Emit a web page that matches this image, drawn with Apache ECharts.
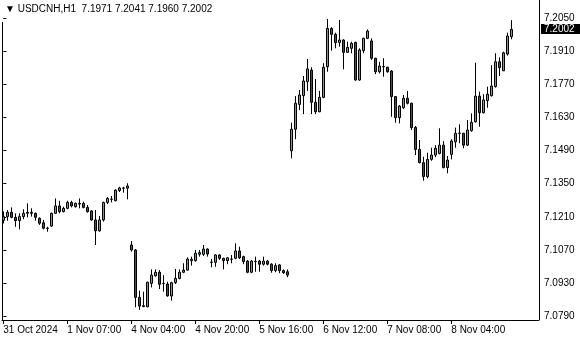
<!DOCTYPE html>
<html><head><meta charset="utf-8">
<script src="https://cdn.jsdelivr.net/npm/echarts@6/dist/echarts.min.js"></script>
<style>html,body{margin:0;padding:0;background:#fff}#c{width:580px;height:340px}</style>
</head><body><div id="c"></div>
<script>
const symbol = 'USDCNH,H1';
const opens = [
7.1195,7.1211,7.1229,7.1208,7.1194,7.1211,7.1225,7.1229,7.1225,7.1204,
7.1185,7.1162,7.1171,7.1225,7.1256,7.1232,7.1246,7.1271,7.1253,7.1267,
7.1267,7.1250,7.1235,7.1197,7.1151,7.1197,7.1271,7.1284,7.1278,7.1321,
7.1331,7.1331,
7.1091,7.1070,7.0870,7.0835,7.0830,7.0929,7.0961,7.0976,
7.0929,7.0926,7.0876,7.0932,7.0950,7.0976,7.0985,7.1025,7.1025,7.1052,
7.1052,7.1074,7.1018,7.1018,7.1049,7.1035,7.1025,7.1031,7.1035,7.1066,
7.1042,7.1023,7.0976,7.1021,7.1023,7.1010,7.1023,7.1010,7.0983,7.1007,
7.0983,7.0978,
7.1489,7.1580,7.1685,7.1722,7.1781,7.1830,7.1694,7.1654,
7.1715,7.1844,7.2006,7.1981,7.1946,7.1957,7.1905,7.1922,7.1947,7.1788,
7.1912,7.1964,7.1953,7.1880,7.1823,7.1844,7.1842,7.1826,7.1718,7.1629,
7.1671,7.1711,7.1690,7.1588,7.1495,7.1439,7.1380,7.1453,7.1471,7.1478,
7.1513,7.1418,7.1474,7.1527,7.1563,7.1563,7.1513,7.1574,7.1612,7.1720,
7.1650,7.1701,7.1722,7.1760,7.1865,7.1827,7.1898,7.1971];
const highs = [
7.1233,7.1239,7.1250,7.1225,7.1225,7.1242,7.1267,7.1246,7.1228,7.1208,
7.1197,7.1168,7.1228,7.1288,7.1278,7.1253,7.1278,7.1278,7.1271,7.1288,
7.1274,7.1260,7.1239,7.1239,7.1214,7.1274,7.1293,7.1298,7.1326,7.1337,
7.1337,7.1352,
7.1108,7.1074,7.0898,7.0894,7.0936,7.0988,7.0988,7.0985,
7.0964,7.0936,7.0936,7.0990,7.0988,7.1014,7.1039,7.1042,7.1070,7.1070,
7.1091,7.1077,7.1032,7.1052,7.1052,7.1037,7.1039,7.1049,7.1098,7.1084,
7.1046,7.1028,7.1028,7.1042,7.1028,7.1042,7.1028,7.1014,7.1014,7.1010,
7.0988,7.0988,
7.1608,7.1720,7.1746,7.1805,7.1877,7.1842,7.1792,7.1742,
7.1859,7.2046,7.2011,7.1988,7.2042,7.1960,7.1950,7.1950,7.1950,7.1922,
7.1967,7.2002,7.1964,7.1882,7.1865,7.1880,7.1844,7.1830,7.1720,7.1682,
7.1725,7.1742,7.1692,7.1594,7.1535,7.1464,7.1481,7.1502,7.1513,7.1584,
7.1530,7.1467,7.1538,7.1587,7.1601,7.1565,7.1619,7.1647,7.1861,7.1739,
7.1728,7.1760,7.1851,7.1901,7.1884,7.1908,7.1988,7.2041];
const lows = [
7.1182,7.1194,7.1204,7.1168,7.1157,7.1200,7.1208,7.1211,7.1194,7.1176,
7.1157,7.1147,7.1168,7.1222,7.1225,7.1229,7.1242,7.1250,7.1249,7.1246,
7.1246,7.1228,7.1194,7.1091,7.1147,7.1190,7.1264,7.1271,7.1276,7.1315,
7.1312,7.1284,
7.1063,7.0828,7.0817,7.0828,7.0828,7.0912,7.0957,7.0905,
7.0894,7.0873,7.0856,7.0926,7.0946,7.0972,7.0983,7.1004,7.1021,7.1042,
7.1045,7.1042,7.0997,7.0999,7.1028,7.0988,7.1010,7.1014,7.1031,7.1032,
7.1010,7.0972,7.0972,7.0978,7.0978,7.1004,7.1005,7.0974,7.0976,7.0972,
7.0969,7.0955,
7.1457,7.1538,7.1661,7.1644,7.1742,7.1644,7.1644,7.1652,
7.1711,7.1823,7.1912,7.1922,7.1929,7.1833,7.1903,7.1901,7.1785,7.1785,
7.1901,7.1961,7.1873,7.1813,7.1816,7.1802,7.1819,7.1633,7.1608,7.1605,
7.1666,7.1685,7.1577,7.1471,7.1436,7.1363,7.1373,7.1447,7.1462,7.1474,
7.1415,7.1394,7.1453,7.1502,7.1521,7.1500,7.1509,7.1570,7.1608,7.1591,
7.1647,7.1671,7.1718,7.1756,7.1805,7.1826,7.1891,7.1960];
const closes = [
7.1211,7.1229,7.1208,7.1194,7.1211,7.1225,7.1229,7.1225,7.1208,7.1183,
7.1162,7.1161,7.1225,7.1256,7.1232,7.1246,7.1271,7.1256,7.1267,7.1264,
7.1250,7.1232,7.1197,7.1151,7.1197,7.1271,7.1288,7.1285,7.1323,7.1332,
7.1332,7.1340,
7.1070,7.0870,7.0833,7.0831,7.0934,7.0964,7.0976,7.0925,
7.0928,7.0876,7.0932,7.0950,7.0976,7.0985,7.1032,7.1031,7.1056,7.1059,
7.1074,7.1053,7.1019,7.1049,7.1035,7.1025,7.1037,7.1032,7.1066,7.1037,
7.1021,7.0976,7.1023,7.1022,7.1010,7.1023,7.1010,7.0983,7.1004,7.0983,
7.0974,7.0964,
7.1580,7.1690,7.1725,7.1784,7.1835,7.1694,7.1654,7.1715,
7.1842,7.2006,7.1981,7.1946,7.1957,7.1905,7.1926,7.1943,7.1788,7.1915,
7.1964,7.1995,7.1880,7.1823,7.1847,7.1845,7.1823,7.1718,7.1629,7.1678,
7.1711,7.1690,7.1587,7.1495,7.1439,7.1380,7.1453,7.1471,7.1500,7.1513,
7.1418,7.1450,7.1530,7.1563,7.1564,7.1513,7.1577,7.1609,7.1720,7.1650,
7.1704,7.1728,7.1763,7.1865,7.1840,7.1903,7.1974,7.2002];
const priceTicks = [7.0790,7.0930,7.1070,7.1210,7.1350,7.1490,7.1630,7.1770,7.1910,7.2050];
const timeTickBars = [0,16,32,48,64,80,96,112];
const timeTickLabels = ['31 Oct 2024','1 Nov 07:00','4 Nov 04:00','4 Nov 20:00','5 Nov 16:00','6 Nov 12:00','7 Nov 08:00','8 Nov 04:00'];

const FONT = 'Liberation Sans, Arial, DejaVu Sans, sans-serif';
const n = closes.length;
const last = n - 1;
const candles = opens.map((o, i) => [i, o, closes[i], lows[i], highs[i]]);
const titleText = '\u25BC ' + symbol + '  ' + [opens[last], highs[last], lows[last], closes[last]].map(v => v.toFixed(4)).join(' ');

const chart = echarts.init(document.getElementById('c'));
chart.setOption({
  animation: false,
  backgroundColor: '#fff',
  grid: {left: 2, right: 41, top: 2, bottom: 20, show: false},
  xAxis: {
    type: 'value', min: -0.325, max: 133.925,
    axisLine: {show: true, onZero: false, lineStyle: {color: '#000', width: 1}},
    splitLine: {show: false},
    axisTick: {show: true, customValues: timeTickBars, length: 4, lineStyle: {color: '#000'}},
    axisLabel: {customValues: timeTickBars, color: '#000', fontFamily: FONT, fontSize: 10, align: 'left', margin: 5,
      formatter: v => { const k = timeTickBars.indexOf(Math.round(v)); return k >= 0 ? timeTickLabels[k] : ''; }}
  },
  yAxis: {
    type: 'value', position: 'right', min: 7.07743, max: 7.21176,
    axisLine: {show: false},
    splitLine: {show: false},
    axisTick: {show: true, customValues: priceTicks, length: 3, lineStyle: {color: '#000'}},
    axisLabel: {customValues: priceTicks, color: '#000', fontFamily: FONT, fontSize: 10, margin: 5,
      formatter: v => v.toFixed(4)}
  },
  series: [{
    type: 'candlestick',
    data: candles,
    encode: {x: 0, y: [1, 2, 3, 4]},
    barWidth: 3,
    itemStyle: {color: '#32cd32', color0: '#e01010', borderColor: '#000', borderColor0: '#000', borderColorDoji: '#000', borderWidth: 1}
  }]
});

const yLast = chart.convertToPixel({yAxisIndex: 0}, closes[last]);
const rightX = 580 - 41;
chart.setOption({
  graphic: [
    {type: 'line', shape: {x1: rightX + 0.5, y1: 0, x2: rightX + 0.5, y2: 320}, style: {stroke: '#000', lineWidth: 1}, silent: true},
    {type: 'line', shape: {x1: 2.5, y1: 22, x2: 2.5, y2: 320}, style: {stroke: '#000', lineWidth: 1}, silent: true},
    {type: 'text', left: 5, top: 4, style: {text: titleText, fill: '#000', font: '10px ' + FONT}},
    {type: 'rect', shape: {x: rightX + 2, y: Math.round(yLast) - 5, width: 580 - rightX - 2, height: 10}, style: {fill: '#000'}, silent: true},
    {type: 'text', x: rightX + 5, y: yLast, style: {text: closes[last].toFixed(4), fill: '#fff', font: '10px ' + FONT, textVerticalAlign: 'middle', verticalAlign: 'middle'}, silent: true}
  ]
});
</script></body></html>
